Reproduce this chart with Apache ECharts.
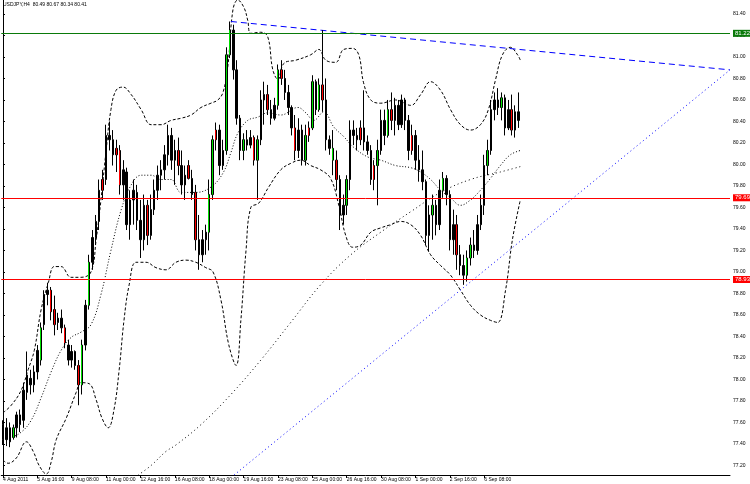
<!DOCTYPE html>
<html><head><meta charset="utf-8">
<script src="https://cdn.jsdelivr.net/npm/echarts@6/dist/echarts.min.js"></script>
<style>html,body{margin:0;padding:0;background:#fff}#c{width:750px;height:484px}</style>
</head><body><div id="c"></div>
<script>
const titleText = 'USDJPY,H4  80.49 80.67 80.34 80.41';
const slotCount = 212;
const tickLabels = ['4 Aug 2011','5 Aug 16:00','9 Aug 08:00','11 Aug 00:00','12 Aug 16:00','16 Aug 08:00','18 Aug 00:00','19 Aug 16:00','23 Aug 08:00','25 Aug 00:00','26 Aug 16:00','30 Aug 08:00','1 Sep 00:00','2 Sep 16:00','6 Sep 08:00'];

const opens = [77.58,77.44,77.55,77.46,77.55,77.67,77.62,77.88,78.01,77.95,
78.07,78.18,78.51,78.79,78.83,78.65,78.53,78.57,78.48,78.32,
78.18,78.26,78.13,77.95,78.32,78.69,79.09,79.32,79.47,79.76,
79.86,80.27,80.23,80.09,80.13,79.81,79.93,79.44,79.67,79.74,
79.48,79.30,79.62,79.34,79.58,79.76,79.90,79.95,80.09,80.27,
80.04,80.13,79.99,79.81,79.99,79.87,79.74,79.30,79.16,79.30,
79.37,79.72,80.23,80.32,79.99,80.13,81.02,81.25,80.88,80.43,
80.13,80.23,80.18,80.25,80.04,80.23,80.60,80.65,80.51,80.43,
80.55,80.88,80.80,80.67,80.53,80.34,80.13,80.32,80.04,80.27,
80.34,80.77,80.51,80.74,80.60,80.23,80.15,80.04,79.86,79.53,
79.62,79.86,80.32,80.27,80.23,80.34,80.21,80.13,79.86,79.99,
80.13,80.41,80.27,80.51,80.41,80.55,80.37,80.60,80.41,80.13,
80.27,80.04,79.95,79.84,79.34,79.53,79.62,79.44,79.76,79.87,
79.72,79.30,79.44,79.16,79.06,78.97,79.13,79.25,79.20,79.44,
79.62,79.99,80.13,80.51,80.60,80.53,80.62,80.34,80.51,80.32,
80.49];
const closes = [77.44,77.55,77.42,77.55,77.67,77.58,77.90,78.04,77.95,78.07,
78.27,78.48,78.79,78.83,78.63,78.51,78.57,78.48,78.34,78.18,
78.26,78.13,77.95,78.32,78.69,79.09,79.32,79.47,79.76,79.86,
80.27,80.23,80.09,80.15,79.81,79.95,79.44,79.67,79.76,79.48,
79.30,79.62,79.34,79.58,79.76,79.90,79.95,80.09,80.27,80.04,
80.13,79.99,79.81,79.90,79.87,79.72,79.30,79.16,79.30,79.37,
79.72,80.23,80.32,79.99,80.13,81.02,81.25,80.88,80.43,80.13,
80.23,80.18,80.25,80.04,80.23,80.60,80.65,80.51,80.43,80.55,
80.88,80.80,80.67,80.53,80.34,80.13,80.32,80.04,80.27,80.34,
80.77,80.51,80.74,80.60,80.23,80.15,80.04,79.86,79.53,79.62,
79.86,80.32,80.27,80.23,80.34,80.21,80.13,79.86,79.99,80.13,
80.41,80.27,80.51,80.41,80.55,80.37,80.60,80.41,80.13,80.27,
80.04,79.95,79.84,79.34,79.53,79.62,79.44,79.76,79.87,79.72,
79.30,79.44,79.16,79.06,78.97,79.13,79.25,79.20,79.44,79.62,
79.99,80.13,80.51,80.60,80.53,80.62,80.34,80.51,80.32,80.49,
80.41];
const lows = [77.39,77.38,77.37,77.44,77.46,77.51,77.55,77.81,77.86,77.88,
78.00,78.13,78.46,78.69,78.55,78.41,78.46,78.43,78.29,78.13,
78.11,78.09,77.76,77.86,78.27,78.65,79.02,79.25,79.39,79.67,
79.81,80.13,79.99,79.93,79.72,79.67,79.39,79.30,79.44,79.39,
79.13,79.20,79.25,79.30,79.53,79.67,79.76,79.86,79.99,79.95,
79.81,79.90,79.72,79.67,79.86,79.67,79.20,79.02,79.09,79.16,
79.20,79.67,80.13,79.90,79.95,80.09,80.99,80.79,80.37,80.04,
80.04,80.13,80.15,79.99,79.67,80.18,80.37,80.46,80.37,80.41,
80.51,80.74,80.60,80.46,80.27,80.04,80.06,79.99,79.99,80.21,
80.32,80.46,80.49,80.49,80.13,80.09,79.90,79.76,79.39,79.44,
79.53,79.76,80.18,80.13,80.18,80.13,80.09,79.81,79.76,79.62,
80.09,80.18,80.25,80.32,80.27,80.32,80.34,80.32,80.04,80.09,
79.95,79.84,79.76,79.25,79.19,79.30,79.34,79.39,79.69,79.62,
79.20,79.16,79.02,78.97,78.88,78.91,79.06,79.13,79.16,79.39,
79.53,79.90,80.09,80.41,80.46,80.41,80.27,80.32,80.27,80.25,
80.34];
const highs = [77.62,77.64,77.60,77.58,77.70,77.72,77.97,78.26,78.09,78.13,
78.32,78.53,78.83,78.90,78.86,78.78,78.62,78.65,78.51,78.37,
78.32,78.27,78.18,78.37,78.74,79.16,79.39,79.53,79.86,79.95,
80.37,80.40,80.32,80.23,80.18,80.04,79.97,79.76,79.86,79.81,
79.67,79.72,79.67,79.72,79.86,79.99,80.04,80.18,80.37,80.34,
80.23,80.25,80.13,79.99,80.04,79.95,79.81,79.53,79.39,79.44,
79.86,80.27,80.39,80.37,80.23,81.09,81.33,81.30,80.97,80.46,
80.29,80.32,80.32,80.27,80.27,80.69,80.77,80.74,80.60,80.62,
80.93,80.97,80.88,80.74,80.55,80.46,80.43,80.37,80.37,80.40,
80.83,80.79,80.80,81.25,80.80,80.27,80.32,80.13,79.90,79.72,
79.90,80.41,80.41,80.34,80.41,80.69,80.27,80.18,80.04,80.23,
80.51,80.51,80.60,80.67,80.62,80.60,80.65,80.62,80.46,80.37,
80.32,80.18,80.13,79.86,79.62,79.72,79.67,79.86,79.93,79.90,
79.76,79.58,79.53,79.25,79.16,79.20,79.32,79.39,79.53,79.72,
80.09,80.23,80.60,80.67,80.71,80.67,80.65,80.60,80.65,80.55,
80.67];

const greenBars = [3,11,23,25,60,61,65,66,70,74,80,88,90,92,96,100,109,112,125,128,135,136,141,145];
const redBars = [14,15,18,22,29,33,34,42,51,54,56,62,73,77,81,85,89,93,97,104,108,113,119,132,148];

const upperBand = [[0,77.69],[2.4,77.76],[5.3,77.90],[7.3,78.09],[9.1,78.27],[11.1,78.65],[13.2,78.90],[14.9,79.05],[16.9,79.05],[19.8,78.95],[22.7,78.95],[25.6,79.00],[27.1,79.30],[28.5,79.67],[30.0,80.13],[31.4,80.51],[32.9,80.69],[34.9,80.72],[37.3,80.65],[40.2,80.51],[43.1,80.37],[46.0,80.37],[48.9,80.41],[51.8,80.43],[54.7,80.46],[57.6,80.53],[60.5,80.57],[62.5,80.60],[64.0,80.67],[65.4,80.91],[66.9,81.44],[68.3,81.53],[70.1,81.46],[71.2,81.34],[72.1,81.22],[75.0,81.23],[77.0,81.19],[78.5,80.88],[80.0,80.79],[81.7,80.94],[85.2,80.97],[89.5,81.02],[91.9,81.07],[93.9,80.97],[96.8,80.95],[99.1,81.07],[101.7,81.08],[103.5,81.02],[104.9,80.76],[107.0,80.60],[109.9,80.57],[114.2,80.60],[118.6,80.55],[121.5,80.65],[124.4,80.77],[127.3,80.69],[130.2,80.51],[133.1,80.37],[136.0,80.32],[138.9,80.37],[141.2,80.51],[143.3,80.79],[145.3,81.02],[147.6,81.09],[149.7,81.02],[150.5,80.97]];
const middleBand = [[0,77.47],[2.4,77.47],[5.3,77.51],[8.2,77.62],[11.1,77.83],[14.0,78.07],[16.9,78.27],[19.8,78.39],[22.7,78.44],[25.6,78.51],[28.5,78.79],[31.4,79.20],[34.4,79.58],[37.3,79.81],[40.2,79.90],[43.1,79.90],[46.0,79.86],[48.9,79.86],[51.8,79.74],[56.1,79.74],[60.5,79.79],[64.0,79.92],[66.3,80.11],[68.3,80.29],[71.2,80.41],[74.1,80.44],[77.0,80.48],[80.8,80.46],[85.8,80.53],[88.1,80.48],[90.4,80.41],[93.3,80.49],[96.2,80.35],[99.1,80.26],[102.0,80.16],[106.1,80.07],[109.9,80.04],[114.2,79.99],[118.6,79.97],[121.5,79.93],[124.4,79.86],[127.3,79.76],[130.2,79.69],[133.1,79.62],[136.0,79.67],[138.9,79.76],[141.8,79.87],[144.7,79.99],[147.6,80.09],[150.5,80.13]];
const lowerBand = [[0,77.25],[1.5,77.22],[3.9,77.27],[6.8,77.42],[8.8,77.33],[10.5,77.20],[12.6,77.12],[14.0,77.23],[15.5,77.44],[18.4,77.64],[21.3,77.88],[22.7,77.97],[25.1,77.96],[27.1,77.81],[28.8,77.64],[30.6,77.55],[32.3,77.72],[33.8,78.09],[35.2,78.55],[36.7,78.88],[38.7,79.09],[41.6,79.09],[44.5,79.04],[47.4,79.02],[50.3,79.09],[53.2,79.11],[56.1,79.09],[59.0,79.04],[61.1,79.00],[63.4,78.74],[65.7,78.32],[67.8,78.13],[69.2,78.55],[70.7,79.20],[72.1,79.60],[74.4,79.64],[77.3,79.79],[80.8,79.95],[83.7,80.01],[86.6,80.04],[89.5,79.99],[92.4,79.95],[95.3,79.87],[97.7,79.62],[99.7,79.34],[101.7,79.23],[104.1,79.25],[107.0,79.37],[109.9,79.41],[112.8,79.44],[115.7,79.47],[118.6,79.44],[121.5,79.34],[124.4,79.16],[127.3,79.06],[130.2,78.97],[133.1,78.83],[136.0,78.69],[138.9,78.60],[141.8,78.55],[143.9,78.53],[146.2,78.83],[148.2,79.30],[150.5,79.67]];
const longMA = [[39.3,77.11],[43.1,77.20],[47.4,77.33],[50.3,77.39],[57.6,77.58],[66.3,77.86],[75.0,78.18],[83.7,78.53],[92.4,78.88],[101.2,79.16],[109.9,79.37],[118.6,79.56],[127.3,79.74],[136.0,79.86],[144.7,79.93],[150.5,79.98]];
const upperTrend = [[66.3,81.33],[211.5,80.88]];
const lowerTrend = [[67.2,77.11],[211.5,80.88]];

const greenLevel = 81.22;
const redLevels = [79.69, 78.93];
const lastPrice = 80.41;

const chart = echarts.init(document.getElementById('c'), null, {renderer: 'canvas'});
const cats = Array.from({length: slotCount}, (_, i) => String(i));
const candleData = opens.map((o, i) => [o, closes[i], lows[i], highs[i]]);
const bodyOnly = idx => opens.map((o, i) => idx.indexOf(i) >= 0
  ? [o, closes[i], Math.min(o, closes[i]), Math.max(o, closes[i])]
  : ['-', '-', '-', '-']);
const labelEvery = (i) => i % 10 === 0 && i / 10 < tickLabels.length;
const FONT = 'Liberation Sans';
const levelLabel = (bg) => ({show: true, position: 'end', distance: 3, formatter: p => Number(p.value).toFixed(2), backgroundColor: bg, color: '#fff', fontSize: 6, fontFamily: FONT, padding: [1, 2, 0, 2]});

const lineSeries = (data, dash, color, smooth) => ({
  type: 'line', xAxisIndex: 1, yAxisIndex: 0, data: data, showSymbol: false, smooth: smooth,
  lineStyle: {color: color, width: 1, type: dash}, silent: true, z: 3
});
const colorBars = (idx, col) => ({
  type: 'candlestick', xAxisIndex: 0, yAxisIndex: 0, data: bodyOnly(idx), barWidth: 1, barMinWidth: 1,
  itemStyle: {color: col, color0: col, borderColor: col, borderColor0: col, borderWidth: 1}, z: 5, silent: true
});

chart.setOption({
  animation: false,
  backgroundColor: '#fff',
  grid: {left: 0, top: 0, right: 20, bottom: 9, containLabel: false},
  graphic: [{type: 'text', left: 3, top: 2, style: {text: titleText, fontSize: 5, fontFamily: FONT, fill: '#000'}}],
  xAxis: [{
    type: 'category', data: cats, boundaryGap: true,
    axisLine: {show: true, lineStyle: {color: '#000', width: 1}},
    axisTick: {show: true, interval: labelEvery, alignWithLabel: true, length: 3, lineStyle: {color: '#000'}},
    axisLabel: {show: true, interval: labelEvery, formatter: (v, i) => tickLabels[Math.round(i / 10)] || '', fontSize: 5, fontFamily: FONT, color: '#000', align: 'left', margin: 2},
    splitLine: {show: false}
  }, {
    type: 'value', min: -0.5, max: slotCount - 0.5, show: false
  }],
  yAxis: [{
    type: 'value', position: 'right', min: 77.111, max: 81.53, splitNumber: 22, minInterval: 0.2, maxInterval: 0.2,
    axisLine: {show: true, lineStyle: {color: '#000', width: 1}},
    axisTick: {show: true, length: 2, lineStyle: {color: '#000'}},
    axisLabel: {show: true, fontSize: 5, fontFamily: FONT, color: '#000', margin: 3, formatter: v => v.toFixed(2), showMinLabel: false, showMaxLabel: false},
    splitLine: {show: false}
  }],
  series: [
    {
      type: 'candlestick', xAxisIndex: 0, yAxisIndex: 0, data: candleData, barWidth: 2,
      itemStyle: {color: '#000', color0: '#000', borderColor: '#000', borderColor0: '#000', borderWidth: 1},
      z: 4,
      markLine: {
        silent: true, symbol: 'none', animation: false,
        data: [
          {yAxis: greenLevel, lineStyle: {color: '#0a7a0a', width: 1, type: 'solid'}, label: levelLabel('#0a7a0a')},
          {yAxis: redLevels[0], lineStyle: {color: '#ff0000', width: 1, type: 'solid'}, label: levelLabel('#ff0000')},
          {yAxis: redLevels[1], lineStyle: {color: '#ff0000', width: 1, type: 'solid'}, label: levelLabel('#ff0000')},
          {yAxis: lastPrice, lineStyle: {opacity: 0}, label: levelLabel('#000')}
        ]
      }
    },
    colorBars(greenBars, '#00e000'),
    colorBars(redBars, '#ff0000'),
    lineSeries(upperBand, [3, 2], '#000', 0.4),
    lineSeries(middleBand, [1, 2], '#000', 0.4),
    lineSeries(lowerBand, [3, 2], '#000', 0.4),
    lineSeries(longMA, [1, 3], '#000', 0.4),
    lineSeries(upperTrend, [6, 4], '#0000ff', false),
    lineSeries(lowerTrend, [1, 3], '#0000ff', false)
  ]
});
</script></body></html>
